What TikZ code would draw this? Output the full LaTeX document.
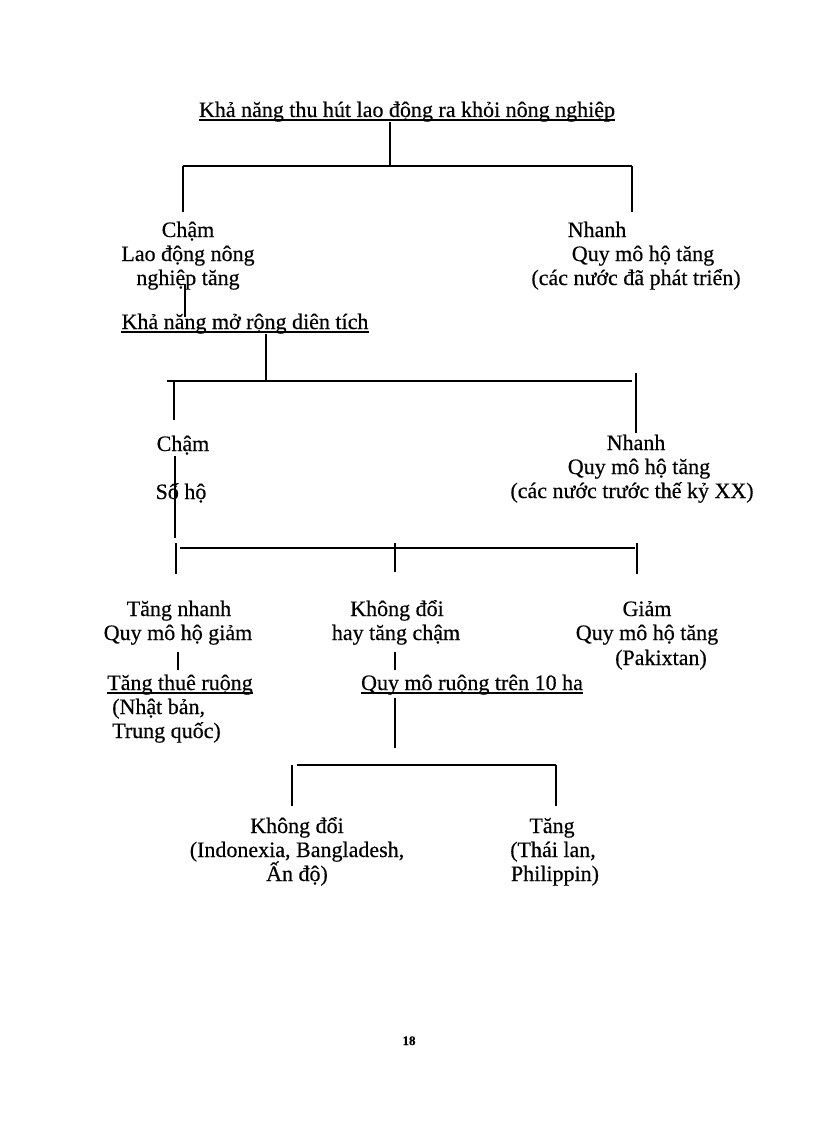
\documentclass[tikz,border=0pt]{standalone}
\usepackage{fontspec}
\setmainfont{Liberation Serif}[FakeBold=0.4]
\begin{document}
\begin{tikzpicture}[x=1pt,y=-1pt,
  txt/.style={inner sep=0pt, anchor=base, font=\fontsize{22}{24}\selectfont},
  txtl/.style={txt, anchor=base west},
  conn/.style={line width=1.3pt, black},
  uline/.style={line width=1.1pt, black}]
\useasboundingbox[fill=white] (0,0) rectangle (816,1123);

% ---- level 1
\node[txt] (t1) at (407,117) {Khả năng thu hút lao động ra khỏi nông nghiệp};
\draw[uline] ([yshift=-3pt]t1.base west) -- ([yshift=-3pt]t1.base east);

\node[txt] (l1a) at (188,237) {Chậm};
\node[txt] (l1b) at (188,261) {Lao động nông};
\node[txt] (l1c) at (188,285) {nghiệp tăng};

\node[txt] (r1a) at (597,237) {Nhanh};
\node[txt] (r1b) at (643,261) {Quy mô hộ tăng};
\node[txt] (r1c) at (636,285) {(các nước đã phát triển)};

\coordinate (j1) at (390,166);
\coordinate (j1l) at (183,166);
\coordinate (j1r) at (632,166);
\coordinate (e1l) at (183,212);
\coordinate (e1r) at (632,212);
\draw[conn] (t1.south -| j1) -- (j1);
\draw[conn] (j1l) -- (j1r);
\draw[conn] (j1l) -- (e1l);
\draw[conn] (j1r) -- (e1r);

% ---- level 2
\node[txt] (t2) at (245,329) {Khả năng mở rộng diên tích};
\draw[uline] ([yshift=-3pt]t2.base west) -- ([yshift=-3pt]t2.base east);
\coordinate (s1) at (185,284);
\coordinate (s1e) at (185,317);
\draw[conn] (s1) -- (s1e);

\node[txt] (l2a) at (183,451) {Chậm};
\node[txt] (l2b) at (181,499) {Số hộ};

\node[txt] (r2a) at (636,450) {Nhanh};
\node[txt] (r2b) at (639,474) {Quy mô hộ tăng};
\node[txt] (r2c) at (632,498) {(các nước trước thế kỷ XX)};

\coordinate (j2) at (266,381);
\coordinate (j2s) at (167,381);
\coordinate (j2r) at (632,381);
\coordinate (v2l) at (174,381);
\coordinate (e2l) at (174,420);
\coordinate (v2r) at (636,373);
\coordinate (e2r) at (636,433);
\draw[conn] (t2.south -| j2) -- (j2);
\draw[conn] (j2s) -- (j2r);
\draw[conn] (v2l) -- (e2l);
\draw[conn] (v2r) -- (e2r);

% ---- level 3
\coordinate (s2) at (175,456);
\coordinate (s2e) at (175,538);
\draw[conn] (s2) -- (s2e);

\coordinate (j3l) at (180,548);
\coordinate (j3r) at (635,548);
\coordinate (v3l) at (176,543);
\coordinate (e3l) at (176,574);
\coordinate (v3m) at (395,543);
\coordinate (e3m) at (395,572);
\coordinate (v3r) at (637,543);
\coordinate (e3r) at (637,574);
\draw[conn] (j3l) -- (j3r);
\draw[conn] (v3l) -- (e3l);
\draw[conn] (v3m) -- (e3m);
\draw[conn] (v3r) -- (e3r);

\node[txt] (a1) at (179,616) {Tăng nhanh};
\node[txt] (a2) at (178,640) {Quy mô hộ giảm};
\node[txt] (b1) at (397,616) {Không đổi};
\node[txt] (b2) at (396,640) {hay tăng chậm};
\node[txt] (c1) at (647,616) {Giảm};
\node[txt] (c2) at (647,640) {Quy mô hộ tăng};
\node[txt] (c3) at (661,665) {(Pakixtan)};

\node[txt] (a3) at (180,690) {Tăng thuê ruộng};
\draw[uline] ([yshift=-3pt]a3.base west) -- ([yshift=-3pt]a3.base east);
\node[txtl] (a4) at (112,714) {(Nhật bản,};
\node[txtl] (a5) at (112,738) {Trung quốc)};

\node[txt] (b3) at (472,690) {Quy mô ruộng trên 10 ha};
\draw[uline] ([yshift=-3pt]b3.base west) -- ([yshift=-3pt]b3.base east);

\coordinate (s3a) at (178,652);
\coordinate (s3ae) at (178,670);
\coordinate (s3b) at (395,652);
\coordinate (s3be) at (395,670);
\draw[conn] (s3a) -- (s3ae);
\draw[conn] (s3b) -- (s3be);

% ---- level 4
\coordinate (s4) at (395,698);
\coordinate (s4e) at (395,748);
\draw[conn] (s4) -- (s4e);

\coordinate (j4l) at (297,765);
\coordinate (j4r) at (556,765);
\coordinate (v4l) at (292,765);
\coordinate (e4l) at (292,806);
\coordinate (e4r) at (556,806);
\draw[conn] (j4l) -- (j4r);
\draw[conn] (v4l) -- (e4l);
\draw[conn] (j4r) -- (e4r);

\node[txt] (d1) at (297,833) {Không đổi};
\node[txt] (d2) at (297,857) {(Indonexia, Bangladesh,};
\node[txt] (d3) at (297,881) {Ấn độ)};
\node[txt] (f1) at (552,833) {Tăng};
\node[txt] (f2) at (553,857) {(Thái lan,};
\node[txt] (f3) at (555,881) {Philippin)};

% ---- page number
\node[inner sep=0pt, anchor=base, font=\fontsize{13}{15}\selectfont\bfseries] (pg) at (409,1045) {18};
\end{tikzpicture}
\end{document}
